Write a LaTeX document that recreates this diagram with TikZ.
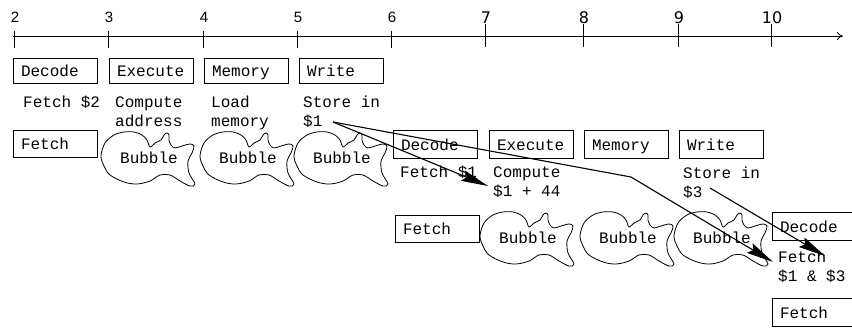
\documentclass[tikz,border=0pt]{standalone}
\usepackage{fontspec}
\setmainfont{Liberation Mono}
\newfontfamily\axA{Liberation Sans}
\newfontfamily\axB{DejaVu Sans}
\usetikzlibrary{arrows.meta}
\newcommand\bubbleat[3]{%
  \draw[bubline,shift={(#2-48,#3-26)}] plot[smooth cycle,tension=0.55] coordinates {
    (0,24) (4,11) (13,3) (23,0) (33,0) (41,3) (46,8) (49,15) (54,11) (60,8)
    (63,3) (66,1) (68,3) (68,8) (70,13) (74,16) (81,14) (89,12) (93,14)
    (91,21) (87,29) (88,41) (94,52) (89,54) (79,49) (69,43) (59,43) (49,49)
    (36,52) (23,50) (9,43) (3,34)};
  \node[bubtxt] (#1) at (#2,#3) {Bubble};}
\begin{document}
\begin{tikzpicture}[x=1pt,y=-1pt,
  every node/.style={font=\fontsize{16}{19}\selectfont},
  box/.style={draw,line width=0.8pt,anchor=north west,outer sep=0pt,
    text width=68pt,inner xsep=8pt,inner ysep=0pt,align=left,
    text height=14pt,text depth=2pt},
  lbl/.style={anchor=base west,inner sep=0pt,align=left},
  bubtxt/.style={inner sep=0pt},
  bubline/.style={line width=0.8pt},
  tick/.style={line width=0.8pt},
  numA/.style={anchor=base,inner sep=0pt,font=\axA\fontsize{15}{15}\selectfont},
  numB/.style={anchor=base,inner sep=0pt,font=\axB\fontsize{16}{16}\selectfont},
  dep/.style={line width=1.1pt,-{Stealth[length=27pt,width=11pt,inset=4pt]}}]
\useasboundingbox (0,0) rectangle (852,327);
% time axis
\coordinate (ax0) at (13,36);
\coordinate (ax1) at (843,36);
\draw[line width=0.8pt,-{To[length=6pt,width=8pt]}] (ax0) -- (ax1);
\foreach \n/\x in {2/14,3/108,4/203,5/297,6/391}{
  \node[numA] (t\n) at (\x+1,22) {\n};
  \draw[tick] (\x,31) -- (\x,48);}
\foreach \n/\x in {7/485,8/583,9/678,10/771}{
  \node[numB] (t\n) at (\x+1,23) {\n};
  \draw[tick] (\x,24) -- (\x,47);}
% row 1
\node[box,minimum height=25pt] (d1) at (13,58) {Decode};
\node[box,minimum height=25pt] (e1) at (109,58) {Execute};
\node[box,minimum height=25pt] (m1) at (204,58) {Memory};
\node[box,minimum height=25pt] (w1) at (299,58) {Write};
\node[lbl] (l1) at (23,107) {Fetch \$2};
\node[lbl] (l2) at (115,126) {Compute\\address};
\node[lbl] (l3) at (211,126) {Load\\memory};
\node[lbl] (l4) at (303,126) {Store in\\\$1};
% row 2
\node[box,minimum height=27pt] (f2) at (13,130) {Fetch};
\bubbleat{b1}{149}{158}
\bubbleat{b2}{248}{158}
\bubbleat{b3}{342}{158}
\node[box,minimum height=28pt] (d2) at (393,130) {Decode};
\node[box,minimum height=28pt] (e2) at (489,130) {Execute};
\node[box,minimum height=28pt] (m2) at (584,130) {Memory};
\node[box,minimum height=28pt] (w2) at (679,130) {Write};
\node[lbl] (l5) at (400,177) {Fetch \$1};
\node[lbl] (l6) at (493,196) {Compute\\\$1 + 44};
\node[lbl] (l7) at (683,197) {Store in\\\$3};
% row 3
\node[box,minimum height=27pt] (f3) at (395,215) {Fetch};
\bubbleat{b4}{528}{238}
\bubbleat{b5}{628}{238}
\bubbleat{b6}{722}{238}
\node[box,minimum height=28pt] (d3) at (772,212) {Decode};
\node[lbl] (l8) at (778,281) {Fetch\\\$1 \& \$3};
\node[box,minimum height=28pt] (f4) at (772,298) {Fetch};
% dependencies
\coordinate (s1) at (333,122);
\coordinate (k1) at (631,177);
\coordinate (s3) at (710,188);
\coordinate (g1) at (488,186);
\coordinate (g2) at (773,262);
\coordinate (g3) at (825,256);
\draw[dep] (s1) -- (g1);
\draw[dep] (s1) -- (k1) -- (g2);
\draw[dep] (s3) -- (g3);
\end{tikzpicture}
\end{document}
